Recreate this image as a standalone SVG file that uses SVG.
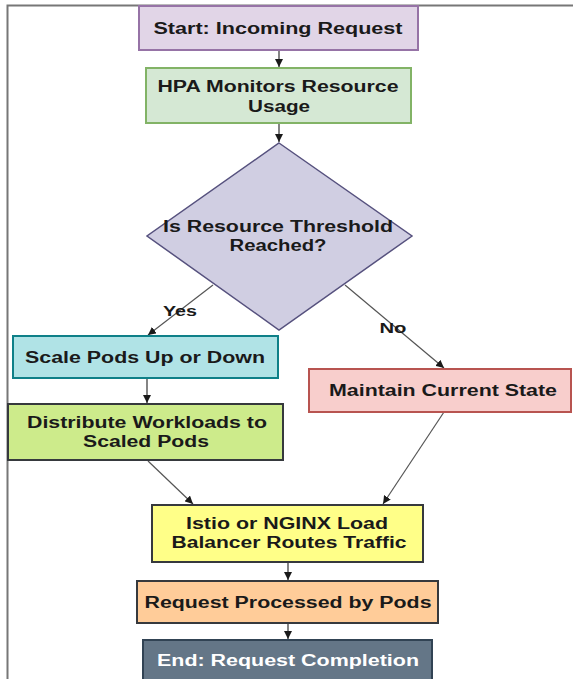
<svg xmlns="http://www.w3.org/2000/svg" width="573" height="679" viewBox="0 0 573 679">
<defs>
<marker id="ah" viewBox="0 0 10 10" refX="10" refY="5" markerWidth="8" markerHeight="8" markerUnits="userSpaceOnUse" orient="auto">
<path d="M0,0 L10,5 L0,10 z" fill="#1a1a1a"/>
</marker>
</defs>
<style>
.t{font-family:"Liberation Sans",Arial,sans-serif;font-weight:bold;font-size:16px;fill:#1a1a1a;text-anchor:middle}
.s{font-size:15px}
.w{fill:#ffffff}
.c{stroke:#333333;stroke-width:1.2;fill:none;marker-end:url(#ah)}
.d{stroke:#555555}
.bx{stroke-width:2}
</style>
<rect width="573" height="679" fill="#ffffff"/>
<path d="M7.5,679 V5.5 H573" fill="none" stroke="#777777" stroke-width="2"/>
<g id="connectors">
<line class="c" x1="279" y1="50" x2="279" y2="67"/>
<line class="c" x1="279" y1="123" x2="279" y2="142"/>
<line class="c d" x1="213" y1="285" x2="148" y2="335"/>
<line class="c d" x1="345" y1="285" x2="444" y2="368"/>
<line class="c" x1="147" y1="378" x2="147" y2="403"/>
<line class="c d" x1="148" y1="461" x2="193" y2="504"/>
<line class="c d" x1="444" y1="412" x2="383" y2="504"/>
<line class="c" x1="288" y1="562" x2="288" y2="580"/>
<line class="c" x1="288" y1="623" x2="288" y2="639"/>
<text class="t s" x="180" y="316" textLength="34" lengthAdjust="spacingAndGlyphs">Yes</text>
<text class="t s" x="393" y="333" textLength="27" lengthAdjust="spacingAndGlyphs">No</text>
</g>
<g id="start">
<rect class="bx" x="139" y="6" width="279" height="44" fill="#e1d5e7" stroke="#9673a6"/>
<text class="t" x="278" y="34" textLength="249" lengthAdjust="spacingAndGlyphs">Start: Incoming Request</text>
</g>
<g id="hpa">
<rect class="bx" x="146" y="68" width="265" height="55" fill="#d5e8d4" stroke="#82b366"/>
<text class="t" x="278" y="92" textLength="241" lengthAdjust="spacingAndGlyphs">HPA Monitors Resource</text>
<text class="t" x="279" y="112" textLength="62" lengthAdjust="spacingAndGlyphs">Usage</text>
</g>
<g id="decision">
<polygon points="279,143 412,236 279,330 147,236" fill="#d0cee2" stroke="#56517e" stroke-width="1.5"/>
<text class="t" x="278" y="232" textLength="230" lengthAdjust="spacingAndGlyphs">Is Resource Threshold</text>
<text class="t" x="278" y="251" textLength="97" lengthAdjust="spacingAndGlyphs">Reached?</text>
</g>
<g id="scale">
<rect class="bx" x="13" y="336" width="265" height="42" fill="#b0e3e6" stroke="#0e8088"/>
<text class="t" x="145" y="363" textLength="240" lengthAdjust="spacingAndGlyphs">Scale Pods Up or Down</text>
</g>
<g id="distribute">
<rect class="bx" x="8" y="404" width="275" height="56" fill="#cdeb8b" stroke="#36393d"/>
<text class="t" x="147" y="428" textLength="240" lengthAdjust="spacingAndGlyphs">Distribute Workloads to</text>
<text class="t" x="146" y="447" textLength="126" lengthAdjust="spacingAndGlyphs">Scaled Pods</text>
</g>
<g id="maintain">
<rect class="bx" x="309" y="369" width="262" height="43" fill="#f8cecc" stroke="#b85450"/>
<text class="t" x="443" y="396" textLength="228" lengthAdjust="spacingAndGlyphs">Maintain Current State</text>
</g>
<g id="istio">
<rect class="bx" x="152" y="505" width="271" height="57" fill="#ffff88" stroke="#36393d"/>
<text class="t" x="287" y="529" textLength="202" lengthAdjust="spacingAndGlyphs">Istio or NGINX Load</text>
<text class="t" x="289" y="548" textLength="235" lengthAdjust="spacingAndGlyphs">Balancer Routes Traffic</text>
</g>
<g id="processed">
<rect class="bx" x="137" y="581" width="301" height="42" fill="#ffcc99" stroke="#36393d"/>
<text class="t" x="288" y="608" textLength="287" lengthAdjust="spacingAndGlyphs">Request Processed by Pods</text>
</g>
<g id="end">
<rect class="bx" x="143" y="640" width="289" height="50" fill="#647687" stroke="#314354"/>
<text class="t w" x="288" y="666" textLength="262" lengthAdjust="spacingAndGlyphs">End: Request Completion</text>
</g>
</svg>
